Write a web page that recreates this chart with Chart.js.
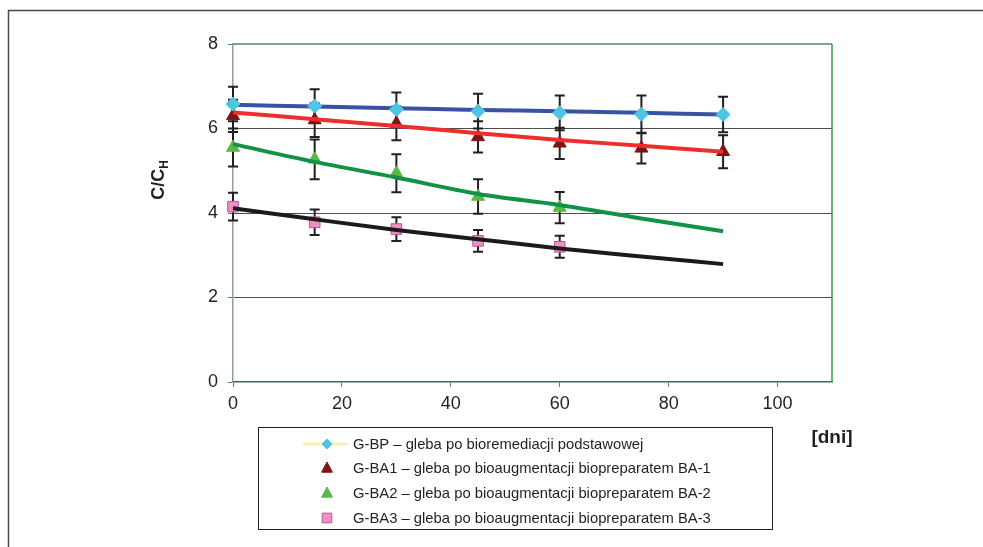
<!DOCTYPE html>
<html lang="pl">
<head>
<meta charset="utf-8">
<title>C/CH</title>
<script src="https://cdn.jsdelivr.net/npm/chart.js@4.4.0/dist/chart.umd.min.js"></script>
<style>
  html, body { margin: 0; padding: 0; background: #fff; }
  #wrap { width: 983px; height: 547px; position: relative; }
</style>
</head>
<body>
<div id="wrap"><canvas id="ccChart"></canvas></div>
<script>
// dni pomiaru
const days = [0, 15, 30, 45, 60, 75, 90];
const daysBA = [0, 15, 30, 45, 60];

// C/CH – punkty pomiarowe
const gbp = [6.58, 6.53, 6.45, 6.41, 6.37, 6.34, 6.33];
const gba1 = [6.30, 6.20, 6.12, 5.80, 5.65, 5.53, 5.45];
const gba2 = [5.55, 5.27, 4.94, 4.39, 4.13];
const gba3 = [4.15, 3.78, 3.62, 3.34, 3.20];

// odchylenia
const gbpErr = [0.41, 0.40, 0.40, 0.41, 0.41, 0.44, 0.42];
const gba1Err = [0.38, 0.40, 0.40, 0.37, 0.37, 0.36, 0.39];
const gba2Err = [0.45, 0.47, 0.45, 0.41, 0.37];
const gba3Err = [0.33, 0.30, 0.28, 0.26, 0.26];

// linie trendu
const gbpTrend = [6.56, 6.52, 6.48, 6.44, 6.41, 6.37, 6.33];
const gba1Trend = [6.38, 6.22, 6.06, 5.89, 5.73, 5.59, 5.45];
const gba2Trend = [5.63, 5.21, 4.84, 4.45, 4.19, 3.87, 3.57];
const gba3Trend = [4.11, 3.85, 3.60, 3.38, 3.16, 2.97, 2.79];

const yTicks = [0, 2, 4, 6, 8];
const xTicks = [0, 20, 40, 60, 80, 100];

const legendLabels = [
  'G-BP \u2013 gleba po bioremediacji podstawowej',
  'G-BA1 \u2013 gleba po bioaugmentacji biopreparatem BA-1',
  'G-BA2 \u2013 gleba po bioaugmentacji biopreparatem BA-2',
  'G-BA3 \u2013 gleba po bioaugmentacji biopreparatem BA-3'
];

const FONT = '"Liberation Sans", Arial, sans-serif';
const TXT = '#231f20';

const pts = (xs, ys) => xs.map((x, i) => ({ x: x, y: ys[i] }));

const trend = (ys, color) => ({
  data: pts(days, ys),
  borderColor: color,
  borderWidth: 4,
  pointRadius: 0,
  showLine: true,
  tension: 0.4,
  cubicInterpolationMode: 'monotone',
  clip: false,
  order: 1
});

const marks = (label, xs, ys, errs, style, fill, edge) => ({
  label: label,
  data: pts(xs, ys),
  errors: errs,
  pointStyle: style,
  pointRadius: style === 'rectRot' ? 7 : 7.5,
  backgroundColor: fill,
  pointBorderColor: edge,
  pointBorderWidth: 1,
  clip: false,
  order: 2
});

const datasets = [
  trend(gbpTrend, '#3853a4'),
  trend(gba1Trend, '#ee2d2d'),
  trend(gba2Trend, '#129247'),
  trend(gba3Trend, '#1c1a1a'),
  // G-BP: znaczniki nad linią trendu, w legendzie z jasną linią
  Object.assign(marks(legendLabels[0], days, gbp, gbpErr, 'rectRot', '#4cc6e2', '#4cc6e2'),
    { legendLine: '#f7f3b5', order: 0 }),
  marks(legendLabels[1], days, gba1, gba1Err, 'triangle', '#7f1416', '#7f1416'),
  marks(legendLabels[2], daysBA, gba2, gba2Err, 'triangle', '#5bb847', '#5bb847'),
  marks(legendLabels[3], daysBA, gba3, gba3Err, 'rect', '#f090c2', '#b6569e')
];

// słupki błędów pod znacznikami
const errorBars = {
  id: 'errorBars',
  beforeDatasetsDraw(chart) {
    const { ctx, scales: { x, y } } = chart;
    ctx.save();
    ctx.strokeStyle = '#231f20';
    ctx.lineWidth = 2;
    chart.data.datasets.forEach(ds => {
      if (!ds.errors) return;
      ds.data.forEach((p, i) => {
        const px = x.getPixelForValue(p.x);
        const top = y.getPixelForValue(p.y + ds.errors[i]);
        const bot = y.getPixelForValue(p.y - ds.errors[i]);
        ctx.beginPath();
        ctx.moveTo(px, top); ctx.lineTo(px, bot);
        ctx.moveTo(px - 5, top); ctx.lineTo(px + 5, top);
        ctx.moveTo(px - 5, bot); ctx.lineTo(px + 5, bot);
        ctx.stroke();
      });
    });
    ctx.restore();
  }
};

function drawMarker(ctx, style, x, y, r) {
  if (style === 'rectRot') {
    ctx.moveTo(x, y - r); ctx.lineTo(x + r, y); ctx.lineTo(x, y + r); ctx.lineTo(x - r, y);
  } else if (style === 'triangle') {
    ctx.moveTo(x, y - r); ctx.lineTo(x + r * 0.9, y + r * 0.7); ctx.lineTo(x - r * 0.9, y + r * 0.7);
  } else {
    ctx.rect(x - r * 0.8, y - r * 0.8, r * 1.6, r * 1.6);
  }
  ctx.closePath();
}

// ramka, tytuły osi i legenda
const decorations = {
  id: 'decorations',
  afterDraw(chart) {
    const { ctx, chartArea: a } = chart;
    ctx.save();

    // zewnętrzna ramka (góra i lewa)
    ctx.strokeStyle = '#4a4a4a';
    ctx.lineWidth = 1.5;
    ctx.beginPath();
    ctx.moveTo(8.5, 547); ctx.lineTo(8.5, 10.5); ctx.lineTo(983, 10.5);
    ctx.stroke();

    // górna i prawa krawędź obszaru wykresu
    ctx.strokeStyle = '#4b8a5e';
    ctx.beginPath();
    ctx.moveTo(a.left, a.top); ctx.lineTo(a.right, a.top);
    ctx.stroke();
    ctx.strokeStyle = '#2f9e56';
    ctx.beginPath();
    ctx.moveTo(a.right, a.top); ctx.lineTo(a.right, a.bottom);
    ctx.stroke();

    // tytuł osi Y: C/CH
    ctx.fillStyle = TXT;
    ctx.translate(157, 180);
    ctx.rotate(-Math.PI / 2);
    ctx.textBaseline = 'alphabetic';
    ctx.font = 'bold 18px ' + FONT;
    const wMain = ctx.measureText('C/C').width;
    ctx.font = 'bold 12px ' + FONT;
    const wSub = ctx.measureText('H').width;
    const x0 = -(wMain + wSub) / 2;
    ctx.font = 'bold 18px ' + FONT;
    ctx.fillText('C/C', x0, 7);
    ctx.font = 'bold 12px ' + FONT;
    ctx.fillText('H', x0 + wMain, 11);
    ctx.setTransform(1, 0, 0, 1, 0, 0);

    // tytuł osi X
    ctx.font = 'bold 19px ' + FONT;
    ctx.textAlign = 'center';
    ctx.textBaseline = 'middle';
    ctx.fillText('[dni]', 832, 438);

    // legenda
    const box = { left: 258, top: 427, right: 772, bottom: 529 };
    ctx.strokeStyle = '#231f20';
    ctx.lineWidth = 1;
    ctx.strokeRect(box.left + 0.5, box.top + 0.5, box.right - box.left, box.bottom - box.top);

    const rows = [444, 468, 493, 518];
    const mx = 327;
    ctx.textAlign = 'left';
    ctx.font = '14.8px ' + FONT;
    chart.data.datasets.filter(ds => ds.label).forEach((ds, i) => {
      const ry = rows[i];
      if (ds.legendLine) {
        ctx.strokeStyle = ds.legendLine;
        ctx.lineWidth = 3;
        ctx.beginPath();
        ctx.moveTo(303, ry); ctx.lineTo(348, ry);
        ctx.stroke();
      }
      const r = ds.pointStyle === 'rectRot' ? 5 : 6;
      ctx.fillStyle = ds.backgroundColor;
      ctx.strokeStyle = ds.pointBorderColor;
      ctx.lineWidth = 1;
      ctx.beginPath();
      drawMarker(ctx, ds.pointStyle, mx, ry, r);
      ctx.fill();
      ctx.stroke();
      ctx.fillStyle = TXT;
      ctx.textBaseline = 'middle';
      ctx.fillText(ds.label, 353, ry + 1);
    });

    ctx.restore();
  }
};

new Chart(document.getElementById('ccChart'), {
  type: 'scatter',
  data: { datasets: datasets },
  plugins: [errorBars, decorations],
  options: {
    responsive: true,
    maintainAspectRatio: false,
    animation: false,
    layout: { padding: { left: 183, right: 151, top: 44, bottom: 125 } },
    plugins: {
      legend: { display: false },
      tooltip: { enabled: false }
    },
    scales: {
      x: {
        type: 'linear',
        min: 0,
        max: 110,
        afterFit: s => { s.height = 40; },
        afterBuildTicks: s => { s.ticks = xTicks.map(v => ({ value: v })); },
        ticks: { color: TXT, font: { family: FONT, size: 18 }, padding: 6 },
        grid: { drawOnChartArea: false, tickLength: 5, tickColor: '#6b7b70', tickWidth: 1 },
        border: { color: '#3c6b4e', width: 1.5 }
      },
      y: {
        min: 0,
        max: 8,
        afterFit: s => { s.width = 50; },
        afterBuildTicks: s => { s.ticks = yTicks.map(v => ({ value: v })); },
        ticks: { color: TXT, font: { family: FONT, size: 18 }, padding: 10 },
        grid: {
          color: c => (c.tick && (c.tick.value === 0 || c.tick.value === 8)) ? 'rgba(0,0,0,0)' : '#4d4d4d',
          lineWidth: 1,
          tickLength: 5,
          tickColor: '#6b7b70'
        },
        border: { color: '#8aa393', width: 1.5 }
      }
    }
  }
});
</script>
</body>
</html>
